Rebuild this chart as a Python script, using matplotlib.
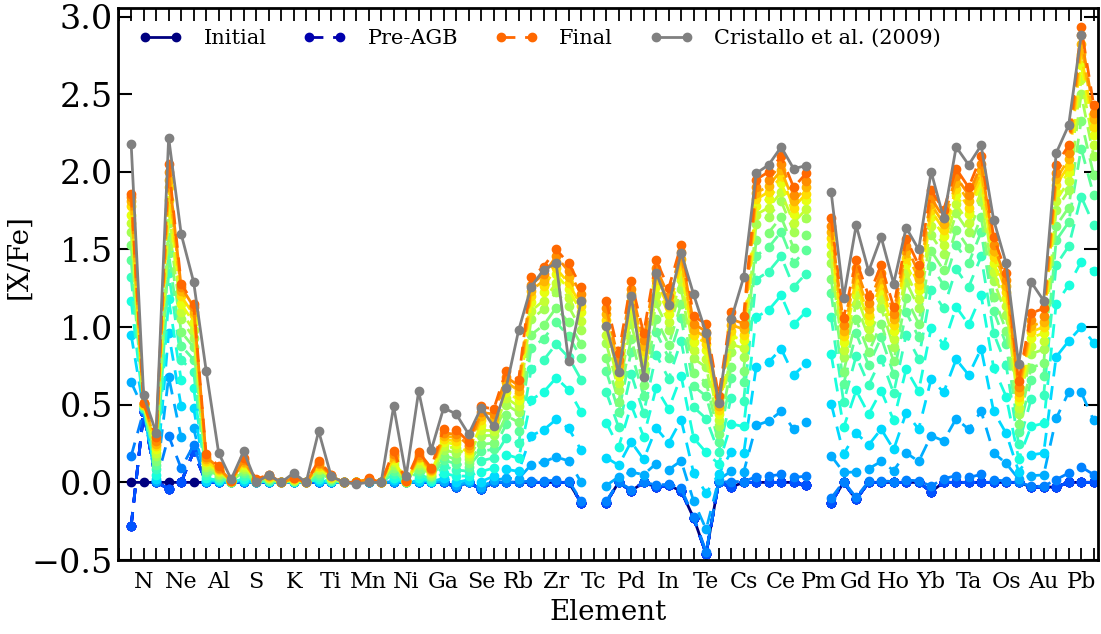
import numpy as np
import matplotlib
matplotlib.use("Agg")
import matplotlib.pyplot as plt

nan = np.nan

# atomic numbers C (6) ... Bi (83)
Z = np.arange(6, 84)
tick_Z = list(range(7, 83, 3))
tick_labels = ["N", "Ne", "Al", "S", "K", "Ti", "Mn", "Ni", "Ga", "Se", "Rb", "Zr", "Tc",
               "Pd", "In", "Te", "Cs", "Ce", "Pm", "Gd", "Ho", "Yb", "Ta", "Os", "Au", "Pb"]

initial = [0, 0, 0, 0, 0, 0, 0, 0, 0, 0,
           0, 0, 0, 0, 0, 0, 0, 0, 0, 0,
           0, 0, 0, 0, 0, 0, -0.03, 0, -0.045, 0,
           0, 0, 0, 0, 0, 0, -0.13, nan, -0.13, 0,
           -0.055, 0, -0.03, -0.02, -0.055, -0.23, -0.46, 0, -0.03, 0,
           0, 0, 0, 0, -0.02, nan, -0.13, 0, -0.11, 0,
           0, 0, 0, 0, -0.06, 0, 0, 0, 0, 0,
           0, 0, -0.03, -0.03, -0.03, 0, 0, 0]

pre_agb = [-0.28, 0.45, 0, -0.04, 0, 0.2, 0, 0, 0, 0,
           0, 0, 0, 0, 0, 0, 0, 0, 0, 0,
           0, 0, 0, 0, 0, 0, -0.03, 0, -0.045, 0,
           0, 0, 0, 0, 0, 0, -0.13, nan, -0.13, 0,
           -0.055, 0, -0.03, -0.02, -0.055, -0.23, -0.46, 0, -0.03, 0,
           0, 0, 0, 0, -0.02, nan, -0.13, 0, -0.11, 0,
           0, 0, 0, 0, -0.06, 0, 0, 0, 0, 0,
           0, 0, -0.03, -0.03, -0.03, 0, 0, 0]

cristallo = [2.18, 0.56, 0.32, 2.22, 1.60, 1.29, 0.72, 0.19, 0.02, 0.20,
             0.0, 0.047, 0.0, 0.06, 0.0, 0.33, 0.04, 0.0, -0.01, 0.0,
             0.0, 0.49, 0.04, 0.587, 0.206, 0.48, 0.44, 0.31, 0.48, 0.36,
             0.61, 0.98, 1.26, 1.37, 1.41, 0.78, 1.17, nan, 1.005, 0.71,
             1.20, 0.68, 1.35, 1.14, 1.48, 1.21, 0.96, 0.51, 1.05, 1.32,
             1.99, 2.045, 2.16, 2.02, 2.04, nan, 1.87, 1.19, 1.655, 1.36,
             1.58, 1.28, 1.64, 1.50, 2.00, 1.70, 2.16, 2.045, 2.17, 1.69,
             1.41, 0.76, 1.29, 1.17, 2.12, 2.30, 2.88, nan]

# [X/Fe] after each thermal pulse with third dredge-up (last column = final)
zero14 = [0.0] * 14
nan14 = [nan] * 14
pulses_by_element = [
    [0.17, 0.645, 0.95, 1.17, 1.32, 1.43, 1.53, 1.61, 1.67, 1.72, 1.78, 1.81, 1.84, 1.86],    # C
    [0.46, 0.47, 0.47, 0.48, 0.48, 0.49, 0.49, 0.50, 0.50, 0.50, 0.50, 0.51, 0.51, 0.51],     # N
    [0.0, 0.006, 0.02, 0.047, 0.083, 0.114, 0.14, 0.173, 0.19, 0.216, 0.232, 0.25, 0.268, 0.29],  # O
    [0.30, 0.68, 0.96, 1.18, 1.35, 1.48, 1.58, 1.67, 1.76, 1.82, 1.90, 1.95, 2.00, 2.05],     # F
    [0.09, 0.29, 0.49, 0.66, 0.79, 0.88, 0.97, 1.05, 1.10, 1.15, 1.20, 1.23, 1.26, 1.28],     # Ne
    [0.24, 0.35, 0.48, 0.61, 0.71, 0.79, 0.87, 0.93, 0.98, 1.03, 1.08, 1.10, 1.13, 1.15],     # Na
    [0.0, 0.003, 0.011, 0.026, 0.046, 0.066, 0.081, 0.101, 0.114, 0.128, 0.14, 0.151, 0.164, 0.18],  # Mg
    [0.0, 0.002, 0.006, 0.014, 0.025, 0.037, 0.045, 0.057, 0.065, 0.073, 0.08, 0.087, 0.095, 0.105],  # Al
    [0, 0, 0, 0.001, 0.002, 0.003, 0.004, 0.005, 0.006, 0.007, 0.007, 0.008, 0.009, 0.01],   # Si
    [0, 0.003, 0.01, 0.023, 0.041, 0.058, 0.071, 0.089, 0.10, 0.113, 0.124, 0.134, 0.146, 0.16],  # P
    [0, 0, 0.001, 0.002, 0.004, 0.006, 0.008, 0.01, 0.012, 0.013, 0.015, 0.016, 0.018, 0.02],  # S
    [0, 0.001, 0.003, 0.006, 0.011, 0.016, 0.02, 0.026, 0.03, 0.034, 0.037, 0.041, 0.045, 0.05],  # Cl
    zero14,                                                                                   # Ar
    [0, 0, 0.002, 0.004, 0.007, 0.01, 0.012, 0.015, 0.018, 0.02, 0.022, 0.025, 0.027, 0.03],  # K
    zero14,                                                                                   # Ca
    [0, 0.002, 0.008, 0.019, 0.035, 0.05, 0.061, 0.077, 0.087, 0.099, 0.108, 0.117, 0.127, 0.14],  # Sc
    [0, 0.001, 0.003, 0.006, 0.011, 0.016, 0.02, 0.026, 0.03, 0.034, 0.037, 0.041, 0.045, 0.05],  # Ti
    zero14,                                                                                   # V
    zero14,                                                                                   # Cr
    [0, 0, 0.002, 0.004, 0.006, 0.008, 0.01, 0.013, 0.015, 0.017, 0.019, 0.02, 0.022, 0.025],  # Mn
    zero14,                                                                                   # Fe
    [0, 0.004, 0.013, 0.029, 0.053, 0.074, 0.091, 0.113, 0.128, 0.144, 0.157, 0.169, 0.182, 0.20],  # Co
    [0, 0, 0, 0.001, 0.002, 0.003, 0.004, 0.005, 0.006, 0.007, 0.007, 0.008, 0.009, 0.01],   # Ni
    [0, 0.004, 0.012, 0.028, 0.052, 0.073, 0.089, 0.111, 0.125, 0.141, 0.154, 0.166, 0.179, 0.195],  # Cu
    [0, 0.002, 0.005, 0.012, 0.022, 0.032, 0.04, 0.05, 0.058, 0.066, 0.072, 0.078, 0.085, 0.094],  # Zn
    [0.001, 0.008, 0.026, 0.059, 0.103, 0.143, 0.172, 0.209, 0.233, 0.258, 0.278, 0.297, 0.318, 0.345],  # Ga
    [-0.03, -0.02, 0.0, 0.04, 0.08, 0.12, 0.15, 0.19, 0.22, 0.245, 0.265, 0.29, 0.31, 0.34],  # Ge
    [0, 0.005, 0.017, 0.041, 0.072, 0.101, 0.123, 0.152, 0.17, 0.19, 0.206, 0.221, 0.238, 0.26],  # As
    [-0.04, -0.03, 0.005, 0.07, 0.14, 0.20, 0.245, 0.30, 0.335, 0.37, 0.40, 0.425, 0.45, 0.49],  # Se
    [0.001, 0.013, 0.04, 0.092, 0.157, 0.213, 0.253, 0.303, 0.334, 0.366, 0.391, 0.414, 0.44, 0.47],  # Br
    [0.002, 0.027, 0.084, 0.179, 0.287, 0.373, 0.431, 0.501, 0.543, 0.585, 0.617, 0.647, 0.679, 0.72],  # Kr
    [0.002, 0.023, 0.071, 0.155, 0.252, 0.33, 0.386, 0.45, 0.49, 0.53, 0.561, 0.59, 0.622, 0.66],  # Rb
    [0.009, 0.114, 0.301, 0.532, 0.728, 0.864, 0.951, 1.05, 1.105, 1.16, 1.20, 1.235, 1.274, 1.32],  # Sr
    [0.01, 0.132, 0.338, 0.582, 0.788, 0.925, 1.013, 1.115, 1.17, 1.226, 1.263, 1.30, 1.34, 1.39],  # Y
    [0.013, 0.164, 0.405, 0.673, 0.89, 1.03, 1.124, 1.226, 1.283, 1.34, 1.378, 1.417, 1.455, 1.50],  # Zr
    [0.011, 0.138, 0.348, 0.596, 0.805, 0.942, 1.03, 1.133, 1.19, 1.245, 1.283, 1.321, 1.36, 1.41],  # Nb
    [-0.12, 0.001, 0.208, 0.453, 0.661, 0.801, 0.888, 0.984, 1.039, 1.095, 1.135, 1.173, 1.212, 1.26],  # Mo
    nan14,                                                                                    # Tc
    [-0.122, -0.021, 0.16, 0.385, 0.583, 0.719, 0.803, 0.898, 0.952, 1.006, 1.047, 1.083, 1.122, 1.17],  # Ru
    [0.003, 0.036, 0.11, 0.228, 0.355, 0.454, 0.519, 0.595, 0.64, 0.687, 0.721, 0.754, 0.787, 0.83],  # Rh
    [-0.046, 0.066, 0.261, 0.497, 0.70, 0.84, 0.925, 1.02, 1.076, 1.13, 1.17, 1.21, 1.248, 1.295],  # Pd
    [0.003, 0.05, 0.148, 0.295, 0.446, 0.556, 0.628, 0.711, 0.76, 0.809, 0.846, 0.88, 0.914, 0.96],  # Ag
    [-0.018, 0.121, 0.349, 0.608, 0.823, 0.966, 1.054, 1.152, 1.207, 1.263, 1.303, 1.343, 1.38, 1.43],  # Cd
    [-0.012, 0.082, 0.255, 0.473, 0.668, 0.802, 0.886, 0.98, 1.033, 1.087, 1.127, 1.164, 1.202, 1.25],  # In
    [-0.039, 0.139, 0.403, 0.685, 0.911, 1.058, 1.149, 1.248, 1.305, 1.362, 1.403, 1.441, 1.481, 1.53],  # Sn
    [-0.222, -0.121, 0.06, 0.285, 0.484, 0.619, 0.703, 0.798, 0.852, 0.907, 0.947, 0.984, 1.022, 1.07],  # Sb
    [-0.447, -0.302, -0.069, 0.193, 0.411, 0.555, 0.643, 0.741, 0.797, 0.853, 0.894, 0.932, 0.971, 1.02],  # Te
    [0.001, 0.017, 0.053, 0.118, 0.196, 0.262, 0.309, 0.366, 0.401, 0.438, 0.465, 0.491, 0.519, 0.555],  # I
    [0.005, 0.072, 0.197, 0.376, 0.546, 0.672, 0.746, 0.838, 0.89, 0.942, 0.977, 1.014, 1.05, 1.10],  # Xe
    [0.005, 0.066, 0.186, 0.36, 0.525, 0.649, 0.72, 0.81, 0.864, 0.916, 0.951, 0.987, 1.023, 1.07],  # Cs
    [0.037, 0.367, 0.741, 1.064, 1.306, 1.46, 1.558, 1.664, 1.724, 1.782, 1.822, 1.862, 1.90, 1.95],  # Ba
    [0.041, 0.395, 0.775, 1.11, 1.358, 1.514, 1.609, 1.712, 1.77, 1.828, 1.871, 1.91, 1.95, 2.00],  # La
    [0.051, 0.458, 0.86, 1.204, 1.455, 1.613, 1.708, 1.811, 1.869, 1.928, 1.97, 2.01, 2.05, 2.10],  # Ce
    [0.032, 0.342, 0.692, 1.017, 1.258, 1.411, 1.508, 1.614, 1.672, 1.731, 1.77, 1.81, 1.85, 1.90],  # Pr
    [0.04, 0.39, 0.766, 1.10, 1.345, 1.499, 1.596, 1.70, 1.76, 1.82, 1.86, 1.90, 1.94, 1.99],  # Nd
    nan14,                                                                                    # Pm
    [-0.102, 0.171, 0.507, 0.824, 1.065, 1.218, 1.312, 1.413, 1.471, 1.529, 1.572, 1.61, 1.65, 1.70],  # Sm
    [0.005, 0.064, 0.183, 0.354, 0.517, 0.634, 0.714, 0.806, 0.855, 0.907, 0.942, 0.978, 1.014, 1.06],  # Eu
    [-0.097, 0.067, 0.318, 0.592, 0.814, 0.96, 1.049, 1.149, 1.207, 1.262, 1.303, 1.34, 1.38, 1.43],  # Gd
    [0.006, 0.088, 0.241, 0.44, 0.627, 0.754, 0.838, 0.934, 0.987, 1.041, 1.078, 1.115, 1.152, 1.20],  # Tb
    [0.01, 0.135, 0.343, 0.589, 0.796, 0.934, 1.023, 1.124, 1.18, 1.236, 1.274, 1.312, 1.35, 1.40],  # Dy
    [0.005, 0.076, 0.212, 0.40, 0.575, 0.697, 0.779, 0.872, 0.925, 0.978, 1.014, 1.05, 1.087, 1.13],  # Ho
    [0.015, 0.19, 0.447, 0.729, 0.951, 1.096, 1.189, 1.293, 1.35, 1.407, 1.446, 1.484, 1.523, 1.57],  # Er
    [0.01, 0.135, 0.343, 0.589, 0.796, 0.934, 1.023, 1.124, 1.18, 1.236, 1.274, 1.312, 1.35, 1.40],  # Tm
    [-0.024, 0.301, 0.665, 0.994, 1.24, 1.396, 1.49, 1.593, 1.651, 1.709, 1.751, 1.79, 1.83, 1.88],  # Yb
    [0.024, 0.267, 0.58, 0.887, 1.121, 1.271, 1.366, 1.471, 1.53, 1.589, 1.628, 1.667, 1.705, 1.755],  # Lu
    [0.043, 0.41, 0.792, 1.13, 1.374, 1.53, 1.627, 1.732, 1.79, 1.85, 1.89, 1.93, 1.97, 2.02],  # Hf
    [0.032, 0.342, 0.692, 1.017, 1.258, 1.411, 1.508, 1.614, 1.672, 1.731, 1.77, 1.81, 1.85, 1.90],  # Ta
    [0.051, 0.458, 0.86, 1.204, 1.455, 1.613, 1.708, 1.811, 1.869, 1.928, 1.97, 2.01, 2.05, 2.10],  # W
    [0.016, 0.19, 0.457, 0.737, 0.96, 1.104, 1.196, 1.30, 1.358, 1.415, 1.454, 1.492, 1.53, 1.58],  # Re
    [0.009, 0.122, 0.316, 0.553, 0.754, 0.89, 0.978, 1.078, 1.133, 1.189, 1.226, 1.264, 1.302, 1.35],  # Os
    [0.002, 0.022, 0.07, 0.151, 0.246, 0.324, 0.378, 0.442, 0.481, 0.521, 0.553, 0.581, 0.612, 0.65],  # Ir
    [-0.025, 0.043, 0.177, 0.361, 0.536, 0.66, 0.739, 0.828, 0.88, 0.932, 0.97, 1.006, 1.043, 1.09],  # Pt
    [-0.025, 0.048, 0.189, 0.38, 0.56, 0.686, 0.766, 0.856, 0.908, 0.961, 1.00, 1.035, 1.072, 1.12],  # Au
    [0.018, 0.412, 0.808, 1.15, 1.40, 1.558, 1.652, 1.756, 1.815, 1.873, 1.915, 1.954, 1.995, 2.045],  # Hg
    [0.06, 0.58, 0.91, 1.27, 1.52, 1.675, 1.77, 1.88, 1.94, 2.00, 2.04, 2.08, 2.12, 2.17],  # Tl
    [0.10, 0.58, 1.00, 1.42, 1.84, 2.15, 2.33, 2.50, 2.60, 2.69, 2.76, 2.82, 2.88, 2.93],  # Pb
    [0.05, 0.40, 0.90, 1.36, 1.66, 1.85, 1.98, 2.10, 2.17, 2.24, 2.29, 2.34, 2.38, 2.43],  # Bi
]

n_quiet = 4  # early pulses without dredge-up, still at the pre-AGB surface values

plt.rcParams['font.family'] = ['DejaVu Serif']
plt.rcParams['mathtext.fontset'] = 'dejavuserif'

pulses = np.array(pulses_by_element, dtype=float).T
tracks = [np.array(initial, float), np.array(pre_agb, float)]
tracks += [np.array(pre_agb, float)] * n_quiet
tracks += list(pulses)
colors = plt.cm.jet(np.linspace(0, 0.8, len(tracks)))

fig = plt.figure(figsize=(11.01, 6.34), dpi=100)
ax = fig.add_axes([0.1072, 0.1167, 0.8901, 0.8707])

dash = (0, (5, 3.5))
for i, y in enumerate(tracks):
    if i == 0:
        ax.plot(Z, y, '-', marker='o', ms=6, lw=2, color=colors[i], label='Initial', zorder=2)
    elif i == 1:
        ax.plot(Z, y, ls=dash, marker='o', ms=6, lw=2, color=colors[i], label='Pre-AGB', zorder=2)
    elif i == len(tracks) - 1:
        ax.plot(Z, y, ls=dash, marker='o', ms=6, lw=2, color=colors[i], label='Final', zorder=3)
    else:
        ax.plot(Z, y, ls=dash, marker='o', ms=6, lw=2, color=colors[i], zorder=2)

ax.plot(Z, cristallo, '-', marker='o', ms=6, lw=2, color='gray',
        label='Cristallo et al. (2009)', zorder=4)

ax.set_xlim(4.95, 83.35)
ax.set_ylim(-0.5, 3.055)
ax.set_xticks(tick_Z)
ax.set_xticklabels(tick_labels)
ax.set_xticks(np.arange(5, 84), minor=True)
ax.set_yticks(np.arange(-0.5, 3.01, 0.5))
ax.tick_params(axis='both', which='both', direction='in', top=True, right=True)
ax.tick_params(axis='x', which='both', length=9, width=1.3, labelsize=16, pad=8)
ax.tick_params(axis='y', which='major', length=10, width=1.5, labelsize=24)
for side in ax.spines.values():
    side.set_linewidth(2)

ax.set_xlabel('Element', fontsize=20, labelpad=4)
ax.set_ylabel('[X/Fe]', fontsize=20)
ax.yaxis.set_label_coords(-0.087, 0.55)

ax.legend(loc='upper left', bbox_to_anchor=(0.0, 1.0), ncol=4, frameon=False,
          fontsize=15, numpoints=2, handlelength=2.1, columnspacing=1.75,
          handletextpad=1.0, borderaxespad=0.6)

fig.savefig('out.png', dpi=100)
